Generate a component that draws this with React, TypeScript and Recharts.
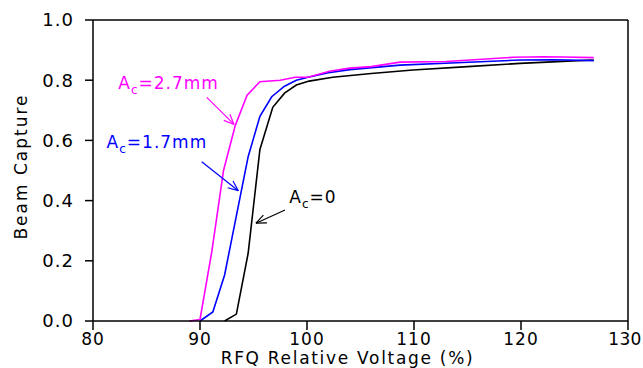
import { LineChart, Line, XAxis, YAxis, ReferenceLine, ReferenceDot } from 'recharts';

// RFQ relative voltage (%) and beam capture, one pair of arrays per aperture
const voltageAc0 = [92.3, 93.4, 94.5, 95.6, 96.8, 97.9, 99.0, 100.2, 102.4, 106.0, 109.9, 115.0, 119.9, 122.4, 126.8];
const captureAc0 = [0.0, 0.023, 0.225, 0.57, 0.71, 0.757, 0.784, 0.797, 0.81, 0.822, 0.834, 0.845, 0.856, 0.86, 0.867];

const voltageAc17 = [90.0, 91.2, 92.3, 94.5, 95.6, 96.7, 97.9, 99.0, 100.1, 102.0, 104.0, 108.7, 114.0, 119.9, 123.0, 126.8];
const captureAc17 = [0.0, 0.03, 0.153, 0.546, 0.68, 0.745, 0.78, 0.8, 0.81, 0.825, 0.835, 0.85, 0.858, 0.867, 0.868, 0.865];

const voltageAc27 = [89.0, 90.0, 91.1, 92.2, 93.3, 94.4, 95.6, 97.5, 98.9, 100.1, 102.1, 104.0, 106.0, 108.7, 113.0, 119.3, 122.1, 124.0, 126.8];
const captureAc27 = [0.0, 0.005, 0.23, 0.5, 0.65, 0.75, 0.795, 0.8, 0.81, 0.81, 0.83, 0.84, 0.845, 0.86, 0.862, 0.876, 0.878, 0.877, 0.875];

const xTicks = [80, 90, 100, 110, 120, 130];
const yTicks = [0, 0.2, 0.4, 0.6, 0.8, 1.0];

const labelTexts = ['=0', '=1.7mm', '=2.7mm'];
const labelColors = ['#000000', '#0000ff', '#ff00ff'];
const labelX = [98.35, 81.27, 82.36];
const labelY = [0.392, 0.575, 0.771];

const arrowFrom = [[97.94, 0.369], [90.16, 0.529], [90.63, 0.743]];
const arrowTo = [[95.23, 0.325], [93.58, 0.433], [93.18, 0.653]];

const toPoints = (xs: number[], ys: number[]) => xs.map((v, i) => ({ v, c: ys[i] }));

const FONT = '"DejaVu Sans", sans-serif';

function Arrow(props: any) {
  const { x1, y1, x2, y2, stroke } = props;
  const ang = Math.atan2(y2 - y1, x2 - x1);
  const len = 11;
  const spread = 0.4;
  const a1 = ang + Math.PI - spread;
  const a2 = ang + Math.PI + spread;
  return (
    <g stroke={stroke} strokeWidth={1.2} fill="none">
      <line x1={x1} y1={y1} x2={x2} y2={y2} />
      <line x1={x2} y1={y2} x2={x2 + len * Math.cos(a1)} y2={y2 + len * Math.sin(a1)} />
      <line x1={x2} y1={y2} x2={x2 + len * Math.cos(a2)} y2={y2 + len * Math.sin(a2)} />
    </g>
  );
}

function makeLabel(i: number) {
  return (props: any) => (
    <text x={props.cx} y={props.cy} fill={labelColors[i]} fontSize={17} fontFamily={FONT} letterSpacing={1}>
      A
      <tspan dy={5} fontSize={12}>c</tspan>
      <tspan dy={-5}>{labelTexts[i]}</tspan>
    </text>
  );
}

// bottom tick label; the last one is nudged so it stays inside the picture
function XTick(props: any) {
  const { x, y, payload, index } = props;
  const last = index === xTicks.length - 1;
  return (
    <text
      x={x + (last ? -3 : 0)}
      y={y}
      dy="0.71em"
      textAnchor="middle"
      fill="#000"
      fontSize={17}
      fontFamily={FONT}
      letterSpacing={last ? 0.3 : 1}
    >
      {payload.value}
    </text>
  );
}

const blank = () => '';

export default function App() {
  const axisStroke = { stroke: '#000', strokeWidth: 1.5 };
  return (
    <div style={{ position: 'absolute', left: 0, top: 0, background: '#fff' }}>
      <LineChart width={643} height={368} margin={{ top: 0, right: 0, bottom: 0, left: 0 }}>
        <XAxis
          xAxisId="b"
          dataKey="v"
          type="number"
          domain={[80, 130]}
          ticks={xTicks}
          tickSize={9}
          tickMargin={3}
          height={47}
          axisLine={axisStroke}
          tickLine={axisStroke}
          tick={XTick}
          label={{
            value: 'RFQ Relative Voltage (%)',
            position: 'insideBottom',
            offset: 4,
            dx: -13,
            style: { fill: '#000', fontSize: 17, fontFamily: FONT, letterSpacing: 1.7 },
          }}
        />
        <XAxis
          xAxisId="t"
          orientation="top"
          type="number"
          domain={[80, 130]}
          ticks={xTicks}
          tickSize={8}
          height={20}
          axisLine={axisStroke}
          tickLine={axisStroke}
          tickFormatter={blank}
        />
        <YAxis
          yAxisId="l"
          type="number"
          domain={[0, 1]}
          ticks={yTicks}
          tickSize={8}
          tickMargin={11}
          width={93}
          axisLine={axisStroke}
          tickLine={axisStroke}
          tick={{ fill: '#000', fontSize: 18, fontFamily: FONT, letterSpacing: 1 }}
          tickFormatter={(v: number) => v.toFixed(1)}
          label={{
            value: 'Beam Capture',
            angle: -90,
            position: 'insideLeft',
            offset: 21,
            dy: -4,
            style: { textAnchor: 'middle', fill: '#000', fontSize: 17, fontFamily: FONT, letterSpacing: 2 },
          }}
        />
        <YAxis
          yAxisId="r"
          orientation="right"
          type="number"
          domain={[0, 1]}
          ticks={yTicks}
          tickSize={10}
          width={15}
          axisLine={axisStroke}
          tickLine={axisStroke}
          tickFormatter={blank}
        />
        <Line
          xAxisId="b"
          yAxisId="l"
          data={toPoints(voltageAc0, captureAc0)}
          dataKey="c"
          stroke="#000000"
          strokeWidth={1.6}
          dot={false}
          isAnimationActive={false}
        />
        <Line
          xAxisId="b"
          yAxisId="l"
          data={toPoints(voltageAc17, captureAc17)}
          dataKey="c"
          stroke="#0000ff"
          strokeWidth={1.6}
          dot={false}
          isAnimationActive={false}
        />
        <Line
          xAxisId="b"
          yAxisId="l"
          data={toPoints(voltageAc27, captureAc27)}
          dataKey="c"
          stroke="#ff00ff"
          strokeWidth={1.6}
          dot={false}
          isAnimationActive={false}
        />
        {arrowFrom.map((p, i) => (
          <ReferenceLine
            key={'a' + i}
            xAxisId="b"
            yAxisId="l"
            segment={[{ x: p[0], y: p[1] }, { x: arrowTo[i][0], y: arrowTo[i][1] }]}
            stroke={labelColors[i]}
            shape={Arrow}
          />
        ))}
        {labelX.map((x, i) => (
          <ReferenceDot
            key={'l' + i}
            xAxisId="b"
            yAxisId="l"
            x={x}
            y={labelY[i]}
            r={0}
            shape={makeLabel(i)}
          />
        ))}
      </LineChart>
    </div>
  );
}
